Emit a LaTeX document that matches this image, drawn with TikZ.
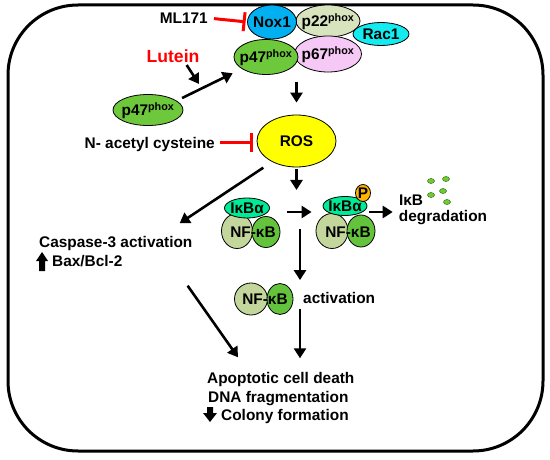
\documentclass[tikz,border=0pt]{standalone}
\usepackage{fontspec}
\setmainfont{Liberation Sans}
\usepackage{xcolor}
\definecolor{NoxColor}{RGB}{0,176,240}
\definecolor{PtwoColor}{RGB}{215,228,189}
\definecolor{RacColor}{RGB}{20,235,240}
\definecolor{PfourColor}{RGB}{110,200,60}
\definecolor{PsixColor}{RGB}{245,200,245}
\definecolor{RosColor}{RGB}{255,255,0}
\definecolor{IkbColor}{RGB}{0,235,150}
\definecolor{NfColor}{RGB}{195,214,155}
\definecolor{KbColor}{RGB}{100,195,60}
\definecolor{PhosColor}{RGB}{255,180,0}
\definecolor{DotColor}{RGB}{110,205,50}
\definecolor{InhibColor}{RGB}{255,0,0}
\usetikzlibrary{positioning, shapes.geometric, arrows.meta}

\newcommand{\phox}{\textsuperscript{\bfseries phox}}

\begin{document}
\begin{tikzpicture}[
    x=1pt, y=-1pt,
    every node/.style={font=\bfseries\fontsize{15.4}{18}\selectfont, inner sep=0pt},
    txt/.style={text height=11pt, text depth=0pt},
    blob/.style={ellipse, draw, line width=0.8pt},
    tag/.style={label={[txt]center:#1}},
    dot/.style={ellipse, draw=DotColor!55!black, fill=DotColor, line width=0.5pt, minimum width=7pt, minimum height=5pt},
    arrow/.style={-{Triangle[length=10pt, width=12pt]}, line width=2.6pt},
    inhib/.style={-{Bar[width=19pt, line width=3pt]}, line width=3pt, InhibColor},
]
\useasboundingbox (0,0) rectangle (550,460);

% Frame
\draw[line width=3pt, rounded corners=70pt] (8,5) rectangle (543,451);

% NADPH oxidase complex
\node[blob, fill=PtwoColor, minimum width=64pt, minimum height=32pt, tag=p22\phox] (ptwo) at (328,21) {};
\node[blob, fill=NoxColor, minimum width=49pt, minimum height=34pt, tag=Nox1] (nox) at (272,22) {};
\node[blob, fill=RacColor, minimum width=56pt, minimum height=23pt, tag=Rac1] (rac) at (381,34) {};
\node[blob, fill=PsixColor, minimum width=67pt, minimum height=36pt, tag=p67\phox] (psix) at (328,54) {};
\node[blob, fill=PfourColor, minimum width=64pt, minimum height=35pt, tag=p47\phox] (pfour) at (266,57) {};

% Inhibitors and Lutein
\node[txt, anchor=east] (mlone) at (208,18) {ML171};
\node[txt, text height=12.6pt, text=InhibColor, font=\bfseries\fontsize{17.6}{20}\selectfont] (lutein) at (173,56) {Lutein};
\node[blob, fill=PfourColor, minimum width=70pt, minimum height=31pt, tag=p47\phox] (pfourcyt) at (148,110) {};
\node[txt, anchor=east] (nac) at (215,143) {N- acetyl cysteine};

% ROS
\node[blob, fill=RosColor, minimum width=79pt, minimum height=52pt, tag=ROS] (ros) at (296.5,141) {};

% NF-kB with IkBa
\node[blob, fill=NfColor, minimum width=31pt, minimum height=35pt] (nfL) at (237,231) {};
\node[blob, fill=KbColor, minimum width=28pt, minimum height=31pt] (kbL) at (266,232) {};
\node[blob, fill=IkbColor, minimum width=45pt, minimum height=20pt, tag=IκBα] (ikbL) at (247,208) {};
\node[txt] (nfkbL) at (253,232) {NF-κB};

% phosphorylated complex
\node[blob, fill=NfColor, minimum width=32pt, minimum height=35pt] (nfR) at (332,231) {};
\node[blob, fill=KbColor, minimum width=28pt, minimum height=32pt] (kbR) at (361,231) {};
\node[blob, fill=IkbColor, minimum width=44pt, minimum height=19pt, tag=IκBα] (ikbR) at (345,206) {};
\node[blob, fill=PhosColor, minimum width=15pt, minimum height=17pt, tag=P] (phos) at (363,193) {};
\node[txt] (nfkbR) at (348,232) {NF-κB};

% degradation
\node[txt] (ikbfree) at (411,200) {IκB};
\node[txt] (degr) at (443,216) {degradation};
\foreach \x/\y [count=\i] in {431/181, 446/179, 431/195, 443/191, 447/202}
    \node[dot] (frag\i) at (\x,\y) {};

% free NF-kB
\node[blob, fill=NfColor, minimum width=33pt, minimum height=32pt] (nfB) at (251,299) {};
\node[blob, fill=KbColor, minimum width=26pt, minimum height=31pt] (kbB) at (280,299) {};
\node[txt] (nfkbB) at (265,299) {NF-κB};
\node[txt, anchor=west] (act) at (303,298) {activation};

% Caspase
\node[txt, anchor=west] (casp) at (39,242) {Caspase-3 activation};
\node[txt, anchor=west] (bax) at (52,261) {Bax/Bcl-2};
\fill (36,261) -- (42,252) -- (48,261) -- (45,261) -- (45,271) -- (39,271) -- (39,261) -- cycle;

% Outcome
\node[txt, anchor=west] (apop) at (207,378) {Apoptotic cell death};
\node[txt, anchor=west] (dna) at (208,397) {DNA fragmentation};
\node[txt, anchor=west] (colony) at (221,415) {Colony formation};
\fill (207,407) -- (213,407) -- (213,413) -- (217,413) -- (210,422) -- (203,413) -- (207,413) -- cycle;

% Connectors
\coordinate (lutTip) at (199,84);
\coordinate (split) at (296.5,190);
\coordinate (nfTop) at (300,229);

\draw[inhib, shorten <=6pt, shorten >=1.5pt] (mlone.east) -- (nox.west);
\draw[inhib, shorten <=5pt, shorten >=4pt] (nac.east) -- (nac.east -| ros.west);
\draw[arrow, shorten <=3pt] ([xshift=12pt]lutein.south) -- (lutTip);
\draw[arrow, shorten <=6pt, shorten >=10pt] (pfourcyt.18) -- (pfour.206);
\draw[arrow, shorten <=10pt, shorten >=12pt] (ros.north |- psix.south) -- (ros.north);
\draw[arrow, shorten <=2pt] (ros.south) -- (split);
\draw[arrow] ([shift={(-5,8)}]ros.south west) -- ([shift={(-13,-13)}]casp.north east);
\draw[arrow] ([shift={(7,4)}]kbL.east |- ikbL.center) -- ([shift={(-4,4)}]nfR.west |- ikbL.center);
\draw[arrow] ([shift={(2,6)}]ikbR.east) -- ([shift={(-6,-4)}]degr.west);
\draw[arrow, shorten >=3pt] (nfTop) -- (nfTop |- kbB.north);
\draw[arrow, shorten <=5pt, shorten >=14pt] (nfTop |- act.south) -- (nfTop |- apop.north);
\draw[arrow] ([shift={(-5,38)}]casp.south east) -- ([shift={(31,-15)}]apop.north west);

\end{tikzpicture}
\end{document}
